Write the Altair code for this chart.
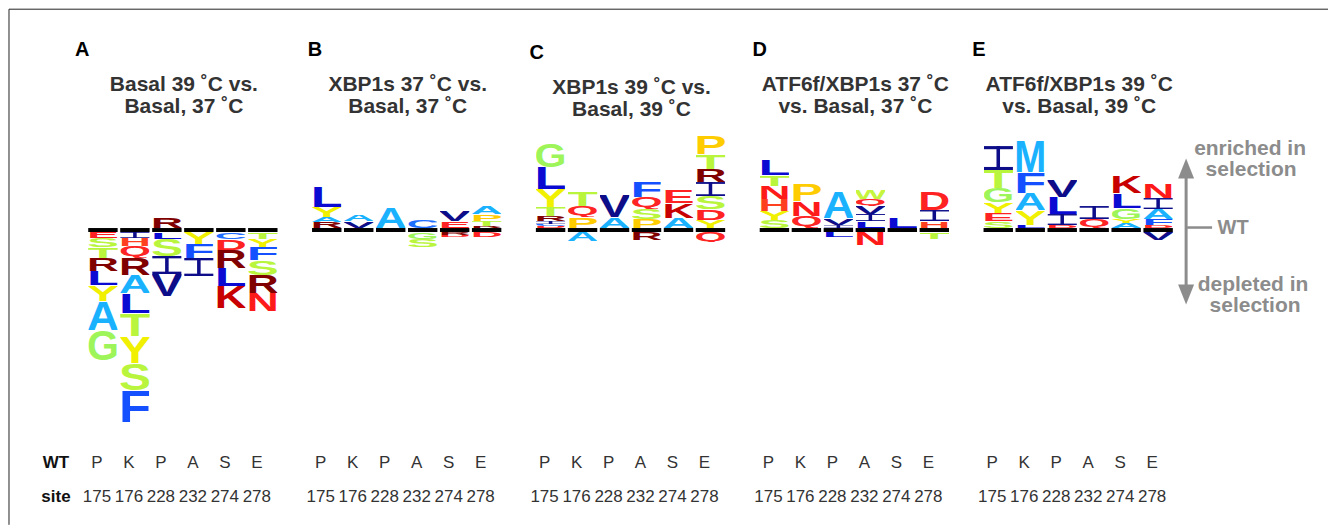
import base64
import altair as alt
import pandas as pd

# ---------------- data ----------------
PANEL_IDS = ["A", "B", "C", "D", "E"]
PANEL_TITLES = [
    ["Basal 39 ˚C vs.", " Basal, 37 ˚C"],
    ["XBP1s 37 ˚C vs.", " Basal, 37 ˚C"],
    ["XBP1s 39 ˚C vs.", "Basal, 39 ˚C"],
    ["ATF6f/XBP1s 37 ˚C", "vs. Basal, 37 ˚C"],
    ["ATF6f/XBP1s 39 ˚C", "vs. Basal, 39 ˚C"],
]
WT_RESIDUES = ["P", "K", "P", "A", "S", "E"]
SITES = ["175", "176", "228", "232", "274", "278"]

# letters per site, listed from the WT line outward: (amino acid, score)
A_ENRICHED = [[], [], [("R", 0.55)], [], [], []]
A_DEPLETED = [
    [("E", 0.30), ("S", 0.45), ("T", 0.55), ("R", 0.65), ("L", 0.70), ("Y", 0.80), ("A", 1.45), ("G", 1.50)],
    [("I", 0.30), ("H", 0.40), ("Q", 0.60), ("R", 0.85), ("A", 0.90), ("L", 1.00), ("T", 1.15), ("Y", 1.35), ("S", 1.35), ("F", 1.60)],
    [("L", 0.35), ("S", 0.85), ("I", 0.90), ("V", 1.10)],
    [("Y", 0.60), ("F", 0.70), ("I", 0.90)],
    [("C", 0.35), ("D", 0.55), ("R", 0.90), ("L", 0.90), ("K", 1.10)],
    [("T", 0.35), ("Y", 0.40), ("F", 0.65), ("S", 0.75), ("R", 0.90), ("N", 0.90)],
]
B_ENRICHED = [
    [("R", 0.30), ("A", 0.25), ("Y", 0.50), ("L", 1.05)],
    [("V", 0.35), ("A", 0.30)],
    [("A", 1.05)],
    [("C", 0.40)],
    [("E", 0.35), ("V", 0.55)],
    [("R", 0.10), ("T", 0.25), ("P", 0.35), ("A", 0.40)],
]
B_DEPLETED = [[], [], [], [("G", 0.35), ("S", 0.40)], [("R", 0.15), ("D", 0.12)], [("D", 0.25)]]
C_ENRICHED = [
    [("D", 0.10), ("C", 0.10), ("I", 0.15), ("R", 0.25), ("T", 0.45), ("Y", 0.90), ("L", 1.10), ("G", 1.20)],
    [("P", 0.55), ("Q", 0.55), ("T", 0.70)],
    [("A", 0.55), ("V", 1.10)],
    [("P", 0.45), ("S", 0.50), ("Q", 0.60), ("F", 0.80)],
    [("A", 0.50), ("K", 0.75), ("E", 0.65)],
    [("Y", 0.40), ("D", 0.55), ("S", 0.65), ("I", 0.70), ("R", 0.65), ("T", 0.75), ("P", 0.95)],
]
C_DEPLETED = [[], [("A", 0.45)], [], [("R", 0.40)], [], [("Q", 0.50)]]
D_ENRICHED = [
    [("S", 0.40), ("Y", 0.45), ("H", 0.60), ("N", 0.65), ("T", 0.55), ("L", 0.80)],
    [("Q", 0.60), ("N", 0.75), ("P", 0.85)],
    [("I", 0.15), ("V", 0.35), ("A", 1.35)],
    [("L", 0.35), ("I", 0.35), ("V", 0.40), ("Q", 0.35), ("W", 0.45)],
    [("L", 0.50)],
    [("H", 0.35), ("I", 0.55), ("D", 0.95)],
]
D_DEPLETED = [[], [], [("L", 0.25)], [("N", 0.65)], [], [("T", 0.35)]]
E_ENRICHED = [
    [("S", 0.35), ("E", 0.40), ("Y", 0.55), ("G", 0.70), ("T", 0.90), ("I", 1.20)],
    [("L", 0.15), ("Y", 0.75), ("A", 0.85), ("F", 1.05), ("M", 1.60)],
    [("D", 0.15), ("I", 0.55), ("L", 0.85), ("V", 0.85)],
    [("Q", 0.45), ("I", 0.65)],
    [("A", 0.25), ("Y", 0.20), ("G", 0.55), ("L", 0.75), ("K", 0.85)],
    [("D", 0.15), ("F", 0.30), ("A", 0.50), ("I", 0.55), ("N", 0.75)],
]
E_DEPLETED = [[], [], [], [], [], [("V", 0.40)]]

PANEL_STACKS = [
    (A_ENRICHED, A_DEPLETED),
    (B_ENRICHED, B_DEPLETED),
    (C_ENRICHED, C_DEPLETED),
    (D_ENRICHED, D_DEPLETED),
    (E_ENRICHED, E_DEPLETED),
]

# ---------------- styles ----------------
AA_COLORS = {
    "A": "#1AB2FF", "M": "#1AB2FF",
    "C": "#1E6EFF",
    "D": "#FF2222", "E": "#FF2222", "N": "#FF1A1A", "Q": "#FF2525",
    "H": "#FF4020",
    "F": "#1450FF",
    "G": "#9EF55A",
    "I": "#0D0D8A", "V": "#0D0D8A",
    "K": "#C80000",
    "L": "#0A0AD2",
    "P": "#FFCC00",
    "R": "#800000",
    "S": "#B9F53D", "T": "#B9F53D", "W": "#C6F540",
    "Y": "#F0F000",
}
SANS = "Liberation Sans"
NARROW = "Liberation Sans Narrow, Liberation Sans"
GRAY = "#8c8c8c"
GAP = 0.1  # half thickness of the WT bar, in score units
LETTER_DX = {"A": -12, "B": -3, "C": -5, "D": -6, "E": -10}


def glyph_uri(letter):
    color = AA_COLORS[letter]
    if letter == "I":
        body = (f'<rect x="0" y="0" width="100" height="13" fill="{color}"/>'
                f'<rect x="0" y="87" width="100" height="13" fill="{color}"/>'
                f'<rect x="44" y="0" width="12" height="100" fill="{color}"/>')
        svg = ('<svg xmlns="http://www.w3.org/2000/svg" width="100" height="100" '
               f'viewBox="0 0 100 100" preserveAspectRatio="none">{body}</svg>')
    else:
        vb_h = 84 if letter == "Q" else 72
        svg = ('<svg xmlns="http://www.w3.org/2000/svg" width="92" height="72" '
               f'viewBox="4 -72 92 {vb_h}" preserveAspectRatio="none">'
               f'<text x="0" y="0" font-family="Liberation Sans, Arial, sans-serif" font-weight="bold" '
               f'font-size="100" textLength="100" lengthAdjust="spacingAndGlyphs" fill="{color}">{letter}</text></svg>')
    return "data:image/svg+xml;base64," + base64.b64encode(svg.encode("utf-8")).decode("ascii")


GLYPHS = {aa: glyph_uri(aa) for aa in AA_COLORS}

rows = []
for pid, (up, down) in zip(PANEL_IDS, PANEL_STACKS):
    for s_idx, site in enumerate(SITES):
        for direction, stacks in ((1, up), (-1, down)):
            for k, (aa, score) in enumerate(stacks[s_idx]):
                rows.append(dict(panel=pid, site=site, aa=aa, score=score,
                                 dir=direction, k=k, url=GLYPHS[aa]))
logo_df = pd.DataFrame(rows)
sites_df = pd.DataFrame({"site": SITES, "wt": WT_RESIDUES})

Y_SCALE = alt.Scale(domain=[-10, 5.25], nice=False, zero=False)
X_SCALE = alt.Scale(domain=SITES, paddingInner=0.08, paddingOuter=0.04)
PANEL_W, PANEL_H = 192, 305


def text_layer(value, x, y, size, weight="bold", color="#333333", font=SANS, align="center"):
    return alt.Chart(pd.DataFrame({"t": [value]})).mark_text(
        font=font, fontSize=size, fontWeight=weight, color=color, align=align, baseline="middle"
    ).encode(x=alt.value(x), y=alt.value(y), text="t:N")


def make_panel(i):
    pid = PANEL_IDS[i]
    shift = 3 if pid == "C" else 0
    x = alt.X("site:N", scale=X_SCALE, axis=None)

    logo = (
        alt.Chart(logo_df)
        .transform_filter(alt.datum.panel == pid)
        .transform_window(cum="sum(score)", groupby=["site", "dir"],
                          sort=[alt.SortField("k", order="ascending")], frame=[None, 0])
        .transform_calculate(y0=f"datum.dir * ({GAP} + datum.cum - datum.score)",
                             y1=f"datum.dir * ({GAP} + datum.cum)")
        .mark_image(aspect=False)
        .encode(x=x, y=alt.Y("y0:Q", scale=Y_SCALE, axis=None), y2="y1:Q", url="url:N")
    )
    bars = alt.Chart(sites_df).mark_rect(color="black").encode(
        x=x, y=alt.YDatum(-GAP, scale=Y_SCALE, axis=None), y2=alt.Y2Datum(GAP)
    )
    wt_row = alt.Chart(sites_df).mark_text(font=NARROW, fontSize=17, color="#333333", dx=-6,
                                           baseline="middle").encode(
        x=x, y=alt.value(338.5), text="wt:N")
    site_row = alt.Chart(sites_df).mark_text(font=NARROW, fontSize=17, color="#333333", dx=-6,
                                             baseline="middle").encode(
        x=x, y=alt.value(372.5), text="site:N")

    layers = [bars, logo, wt_row, site_row,
              text_layer(pid, LETTER_DX[pid], -75 + shift, 20, color="black", align="left"),
              text_layer(PANEL_TITLES[i][0], 97, -40 + shift, 21),
              text_layer(PANEL_TITLES[i][1], 97, -18.5 + shift, 21)]

    if pid == "A":
        layers += [
            text_layer("WT", -31, 338.5, 17, color="#111111"),
            text_layer("site", -31, 372.5, 17, color="#111111"),
            alt.Chart(sites_df.head(1)).mark_rule(color="#222222", strokeWidth=1).encode(
                x=alt.value(-78), x2=alt.value(1242), y=alt.value(-116)),
            alt.Chart(sites_df.head(1)).mark_rule(color="#222222", strokeWidth=1).encode(
                x=alt.value(-78), y=alt.value(-116), y2=alt.value(400)),
        ]
    if pid == "E":
        one = sites_df.head(1)
        layers += [
            alt.Chart(one).mark_rule(color=GRAY, strokeWidth=3).encode(
                x=alt.value(204), y=alt.value(50), y2=alt.value(170)),
            alt.Chart(one).mark_point(shape="M0,-1L0.8,1L-0.8,1Z", filled=True, size=400,
                                      color=GRAY, opacity=1).encode(x=alt.value(204), y=alt.value(43.5)),
            alt.Chart(one).mark_point(shape="M0,1L0.8,-1L-0.8,-1Z", filled=True, size=400,
                                      color=GRAY, opacity=1).encode(x=alt.value(204), y=alt.value(169.5)),
            alt.Chart(one).mark_rule(color=GRAY, strokeWidth=2.5).encode(
                x=alt.value(205), x2=alt.value(230), y=alt.value(102.5)),
            text_layer("WT", 251, 102.5, 20, color=GRAY),
            text_layer("enriched in", 268, 23.5, 21, color=GRAY),
            text_layer("selection", 269, 44.5, 21, color=GRAY),
            text_layer("depleted in", 271, 160.5, 21, color=GRAY),
            text_layer("selection", 273, 181.5, 21, color=GRAY),
        ]

    return alt.layer(*layers).properties(width=PANEL_W, height=PANEL_H)


chart = (
    alt.hconcat(*[make_panel(i) for i in range(5)], spacing=32, bounds="flush")
    .properties(padding=0)
    .configure_view(stroke=None)
)

chart.save("out.html", embed_options={"renderer": "svg", "actions": False})
